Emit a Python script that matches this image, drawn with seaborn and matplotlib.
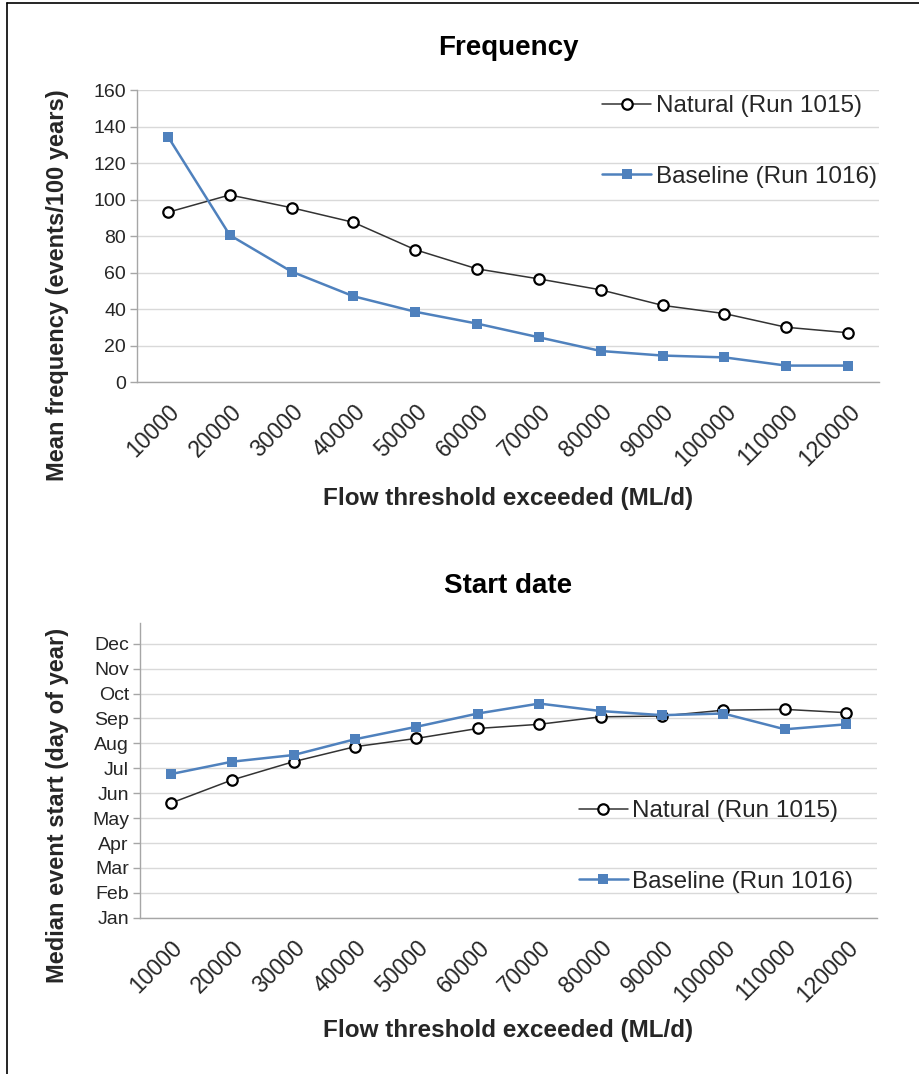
import matplotlib
matplotlib.use("Agg")
import matplotlib.pyplot as plt
from matplotlib.lines import Line2D
import numpy as np
import pandas as pd
import seaborn as sns

# flow thresholds (ML/d)
thresholds = ["10000", "20000", "30000", "40000", "50000", "60000",
              "70000", "80000", "90000", "100000", "110000", "120000"]

# mean frequency (events / 100 years)
freq_natural = [93, 102.5, 95.5, 87.5, 72.5, 62, 56.5, 50.5, 42, 37.5, 30, 27]
freq_baseline = [134.5, 80.5, 60.5, 47, 38.5, 32, 24.5, 17, 14.5, 13.5, 9, 9]

# median event start (day of year, Jan = 0, 30-day months on the axis)
start_natural = [138, 166, 188, 206, 216, 228, 233, 242, 243, 250, 251, 247]
start_baseline = [173, 188, 196, 215, 230, 246, 258, 249, 244, 246, 227, 233]

month_labels = ["Jan", "Feb", "Mar", "Apr", "May", "Jun",
                "Jul", "Aug", "Sep", "Oct", "Nov", "Dec"]

sns.set_theme(style="white")
plt.rcParams["font.family"] = ["Liberation Sans", "DejaVu Sans"]

natural_color = "#333333"
baseline_color = "#4f81bd"
grid_color = "#d9d9d9"
axis_color = "#a6a6a6"
text_color = "#262626"

fig = plt.figure(figsize=(9.2, 10.74), dpi=100)
ax1 = fig.add_axes([0.1489, 0.6443, 0.8065, 0.2719])
ax2 = fig.add_axes([0.1522, 0.1455, 0.8010, 0.2744])


def draw_series(ax, nat, base):
    df = pd.DataFrame({"x": thresholds, "Natural (Run 1015)": nat,
                       "Baseline (Run 1016)": base})
    sns.lineplot(data=df, x="x", y="Natural (Run 1015)", ax=ax, color=natural_color,
                 lw=1.1, marker="o", markersize=7.5, markerfacecolor="white",
                 markeredgecolor="black", markeredgewidth=1.6,
                 label="Natural (Run 1015)", zorder=3)
    sns.lineplot(data=df, x="x", y="Baseline (Run 1016)", ax=ax, color=baseline_color,
                 lw=1.8, marker="s", markersize=7.5, markerfacecolor=baseline_color,
                 markeredgecolor=baseline_color, markeredgewidth=0,
                 label="Baseline (Run 1016)", zorder=4)


def style_axes(ax):
    ax.set_xlim(-0.5, len(thresholds) - 0.5)
    ax.grid(axis="y", color=grid_color, lw=1)
    ax.set_axisbelow(True)
    for s in ["top", "right"]:
        ax.spines[s].set_visible(False)
    for s in ["left", "bottom"]:
        ax.spines[s].set_color(axis_color)
        ax.spines[s].set_linewidth(1)
    ax.tick_params(axis="y", which="both", left=True, length=5, width=1,
                   color=axis_color, labelsize=14, labelcolor=text_color, pad=3)
    ax.tick_params(axis="x", bottom=False, labelsize=16.5, labelcolor=text_color, pad=7)
    for lab in ax.get_xticklabels():
        lab.set_rotation(45)
        lab.set_ha("right")
        lab.set_va("top")
        lab.set_rotation_mode("anchor")


def add_legend(ax, anchor, loc):
    ax.legend(loc=loc, bbox_to_anchor=anchor, frameon=False,
              fontsize=17.5, labelspacing=2.0, handlelength=2.0, handletextpad=0.2,
              borderaxespad=0, borderpad=0.0, labelcolor=text_color)


# --- Frequency ---
draw_series(ax1, freq_natural, freq_baseline)
ax1.set_ylim(0, 160)
ax1.set_yticks(np.arange(0, 161, 20))
style_axes(ax1)
ax1.set_title("Frequency", fontsize=20, fontweight="bold", color="black",
              y=1.144, va="center", pad=0)
ax1.set_ylabel("Mean frequency (events/100 years)", fontsize=17,
               fontweight="bold", color=text_color)
ax1.yaxis.set_label_coords(-0.092, 0.33)
ax1.set_xlabel("Flow threshold exceeded (ML/d)", fontsize=17.5,
               fontweight="bold", color=text_color)
ax1.xaxis.set_label_coords(0.5, -0.36)
add_legend(ax1, (0.997, 0.982), "upper right")

# --- Start date ---
draw_series(ax2, start_natural, start_baseline)
ax2.set_ylim(0, 355)
ax2.set_yticks(np.arange(len(month_labels)) * 30)
ax2.set_yticklabels(month_labels)
style_axes(ax2)
ax2.set_title("Start date", fontsize=20, fontweight="bold", color="black",
              y=1.126, va="center", pad=0)
ax2.set_ylabel("Median event start (day of year)", fontsize=17,
               fontweight="bold", color=text_color)
ax2.yaxis.set_label_coords(-0.096, 0.38)
ax2.set_xlabel("Flow threshold exceeded (ML/d)", fontsize=17.5,
               fontweight="bold", color=text_color)
ax2.xaxis.set_label_coords(0.5, -0.345)
add_legend(ax2, (0.968, 0.085), "lower right")

# frame lines on the left and top edge of the picture
fig.add_artist(Line2D([0.0076, 0.0076], [0, 0.997], color="black", lw=1.2))
fig.add_artist(Line2D([0.0076, 1.0], [0.997, 0.997], color="black", lw=1.2))

fig.savefig("out.png", dpi=100, facecolor="white")
